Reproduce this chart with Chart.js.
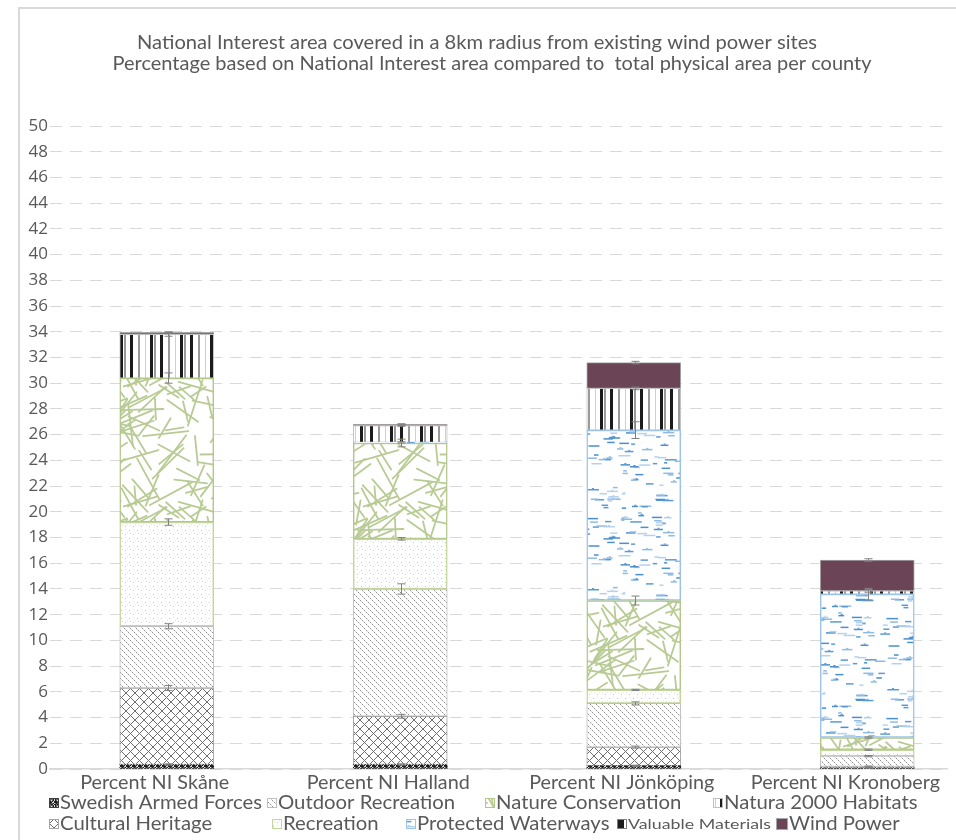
<!DOCTYPE html>
<html>
<head>
<meta charset="utf-8">
<script src="https://cdn.jsdelivr.net/npm/chart.js@4.4.1/dist/chart.umd.min.js"></script>
<style>
  html, body { margin: 0; padding: 0; background: #fff; overflow: hidden; }
  #wrap { position: relative; width: 956px; height: 840px; overflow: hidden; }
  #frame { position: absolute; left: 18px; top: 7px; width: 960px; height: 860px;
           border-left: 2px solid #d9d9d9; border-top: 2px solid #d9d9d9; }
  canvas { position: absolute; left: 0; top: 0; }
</style>
</head>
<body>
<div id="wrap">
  <div id="frame"></div>
  <canvas id="chart" width="993" height="840"></canvas>
</div>
<script>
// ---- Data (percent of county area, stacked bottom to top) ----
const categories = ['Percent NI Skåne', 'Percent NI Halland', 'Percent NI Jönköping', 'Percent NI Kronoberg'];

const swedishArmedForces = [0.35, 0.35, 0.25, 0.10];
const culturalHeritage   = [5.95, 3.75, 1.45, 0.10];
const outdoorRecreation  = [4.80, 9.90, 3.40, 0.80];
const recreation         = [8.10, 3.90, 1.05, 0.50];
const natureConservation = [11.20, 7.45, 6.95, 0.95];
const protectedWaterways = [0.00, 0.05, 13.25, 11.15];
const natura2000         = [3.40, 1.30, 3.25, 0.25];
const valuableMaterials  = [0.00, 0.00, 0.00, 0.00];
const windPower          = [0.15, 0.10, 2.00, 2.40];

// Error bar half-lengths at the top of each segment
const errSwedishArmedForces = [0.05, 0.05, 0.05, 0.03];
const errCulturalHeritage   = [0.20, 0.15, 0.08, 0.03];
const errOutdoorRecreation  = [0.20, 0.40, 0.12, 0.05];
const errRecreation         = [0.25, 0.10, 0.05, 0.05];
const errNatureConservation = [0.40, 0.30, 0.35, 0.05];
const errProtectedWaterways = [0.00, 0.05, 0.65, 0.45];
const errNatura2000         = [0.15, 0.05, 0.10, 0.10];
const errValuableMaterials  = [0.00, 0.00, 0.00, 0.00];
const errWindPower          = [0.05, 0.05, 0.10, 0.10];

const chartTitle = [
  'National Interest area covered in a 8km radius from existing wind power sites',
  'Percentage based on National Interest area compared to  total physical area per county'
];

// ---- Fill textures ----
function hash(n) { const s = Math.sin(n * 127.1 + 311.7) * 43758.5453; return s - Math.floor(s); }

function tile(w, h, paint) {
  const c = document.createElement('canvas');
  c.width = w; c.height = h;
  const g = c.getContext('2d');
  g.fillStyle = '#ffffff';
  g.fillRect(0, 0, w, h);
  paint(g, w, h);
  return c;
}

function wrapped(g, w, h, fn) {
  for (let dx = -1; dx <= 1; dx++) for (let dy = -1; dy <= 1; dy++) fn(dx * w, dy * h);
}

const tiles = {
  armed: tile(6, 6, (g) => {
    for (let y = 0; y < 6; y++) for (let x = 0; x < 6; x++) {
      const r = hash(x * 13 + y * 7 + 1);
      g.fillStyle = r < 0.45 ? '#1e1e1e' : (r < 0.75 ? '#6a6a6a' : '#d8d8d8');
      g.fillRect(x, y, 1, 1);
    }
  }),
  heritage: tile(9, 9, (g) => {
    g.strokeStyle = '#6f6f6f'; g.lineWidth = 1;
    g.beginPath();
    g.moveTo(-1, -1); g.lineTo(10, 10);
    g.moveTo(-1, 10); g.lineTo(10, -1);
    g.stroke();
  }),
  outdoor: tile(6, 6, (g) => {
    for (let k = 0; k < 6; k++) {
      g.fillStyle = k % 2 === 0 ? '#8f8f8f' : '#d4d4d4';
      g.fillRect(k, k, 1, 1);
    }
  }),
  recreation: tile(8, 8, (g) => {
    g.fillStyle = '#c4c4c4';
    g.fillRect(1, 2, 1, 1); g.fillRect(5, 6, 1, 1);
    g.fillStyle = '#e4e4e4';
    g.fillRect(5, 1, 1, 1); g.fillRect(2, 5, 1, 1); g.fillRect(7, 4, 1, 1);
  }),
  nature: tile(120, 120, (g, w, h) => {
    g.strokeStyle = '#b9cb95'; g.lineWidth = 1.8; g.lineCap = 'round';
    for (let i = 0; i < 72; i++) {
      const x = hash(i * 3 + 11) * w, y = hash(i * 5 + 23) * h;
      const a = hash(i * 7 + 37) * Math.PI;
      const len = 18 + hash(i * 11 + 41) * 30;
      const ex = Math.cos(a) * len, ey = Math.sin(a) * len;
      wrapped(g, w, h, (ox, oy) => {
        g.beginPath(); g.moveTo(x + ox, y + oy); g.lineTo(x + ex + ox, y + ey + oy); g.stroke();
      });
    }
  }),
  water: tile(100, 100, (g, w, h) => {
    const cols = ['#5b9bd5', '#8fbbe3', '#4a8fd0', '#b4d1ee'];
    for (let i = 0; i < 95; i++) {
      const x = hash(i * 17 + 5) * w, y = hash(i * 19 + 9) * h;
      const len = 3 + hash(i * 23 + 13) * 9;
      g.fillStyle = cols[i % 4];
      wrapped(g, w, h, (ox, oy) => {
        g.fillRect(x + ox, y + oy, len, 1.5);
        if (i % 3 === 0) g.fillRect(x + ox + len * 0.4, y + oy - 1, 2, 1);
      });
    }
  }),
  natura: tile(30, 8, (g) => {
    g.fillStyle = '#1c1c1c';
    g.fillRect(0, 0, 3, 8); g.fillRect(10, 0, 3, 8);
    g.fillStyle = '#9a9a9a';
    g.fillRect(4, 0, 2, 8); g.fillRect(18, 0, 2, 8);
    g.fillStyle = '#d0d0d0';
    g.fillRect(25, 0, 1, 8);
  }),
  materials: tile(10, 8, (g) => {
    g.fillStyle = '#1c1c1c';
    g.fillRect(0, 0, 10, 8);
    g.fillStyle = '#ffffff';
    g.fillRect(4, 0, 2, 8);
  })
};

const canvas = document.getElementById('chart');
const ctx = canvas.getContext('2d');
const pat = {};
for (const k in tiles) pat[k] = ctx.createPattern(tiles[k], 'repeat');

const series = [
  { label: 'Swedish Armed Forces', values: swedishArmedForces, err: errSwedishArmedForces, fill: pat.armed,      border: '#595959', bw: 0 },
  { label: 'Cultural Heritage',    values: culturalHeritage,   err: errCulturalHeritage,   fill: pat.heritage,   border: '#a6a6a6', bw: 1 },
  { label: 'Outdoor Recreation',   values: outdoorRecreation,  err: errOutdoorRecreation,  fill: pat.outdoor,    border: '#bfbfbf', bw: 1 },
  { label: 'Recreation',           values: recreation,         err: errRecreation,         fill: pat.recreation, border: '#c3d69b', bw: 1.5 },
  { label: 'Nature Conservation',  values: natureConservation, err: errNatureConservation, fill: pat.nature,     border: '#b3c78a', bw: 1.5 },
  { label: 'Protected Waterways',  values: protectedWaterways, err: errProtectedWaterways, fill: pat.water,      border: '#9dc3e6', bw: 1.5 },
  { label: 'Natura 2000 Habitats', values: natura2000,         err: errNatura2000,         fill: pat.natura,     border: '#bfbfbf', bw: 1 },
  { label: 'Valuable Materials',   values: valuableMaterials,  err: errValuableMaterials,  fill: pat.materials,  border: '#7f7f7f', bw: 1 },
  { label: 'Wind Power',           values: windPower,          err: errWindPower,          fill: '#6b4456',      border: '#a6a6a6', bw: 1 }
];

// Legend rows as laid out under the axis (series label, left edge of the swatch)
const legendRows = [
  { y: 803, items: [['Swedish Armed Forces', 49], ['Outdoor Recreation', 267], ['Nature Conservation', 485], ['Natura 2000 Habitats', 713]] },
  { y: 824, items: [['Cultural Heritage', 49], ['Recreation', 272], ['Protected Waterways', 406], ['Valuable Materials', 617], ['Wind Power', 776]] }
];

const TEXT = '#595959';
const VISIBLE_RIGHT = 948;

function fitText(c, text, x, y, width, font, align) {
  c.save();
  c.font = font;
  const m = c.measureText(text).width;
  c.translate(x, y);
  c.scale(width / m, 1);
  c.textAlign = align;
  c.textBaseline = 'middle';
  c.fillStyle = TEXT;
  c.fillText(text, 0, 0);
  c.restore();
}

function ratio(c, text, width, font) {
  c.save(); c.font = font; const m = c.measureText(text).width; c.restore();
  return width / m;
}

// The plot runs past the right edge of the frame; everything is clipped there.
const clipRight = {
  id: 'clipRight',
  beforeDraw(chart) {
    const c = chart.ctx;
    c.save();
    c.beginPath();
    c.rect(0, 0, VISIBLE_RIGHT, chart.height);
    c.clip();
  },
  afterDraw(chart) { chart.ctx.restore(); }
};

const overlay = {
  id: 'overlay',
  afterDatasetsDraw(chart) {
    const c = chart.ctx, xs = chart.scales.x, ys = chart.scales.y;
    c.save();
    c.strokeStyle = '#808080';
    c.lineWidth = 1;
    series.forEach((s, i) => {
      s.values.forEach((v, j) => {
        const e = s.err[j];
        if (!v || !e) return;
        let top = 0;
        for (let k = 0; k <= i; k++) top += series[k].values[j];
        const x = Math.round(xs.getPixelForValue(j)) + 1.5;
        const y1 = ys.getPixelForValue(top + e), y2 = ys.getPixelForValue(top - e);
        c.beginPath();
        c.moveTo(x, y1); c.lineTo(x, y2);
        c.moveTo(x - 4, y1); c.lineTo(x + 4, y1);
        c.moveTo(x - 4, y2); c.lineTo(x + 4, y2);
        c.stroke();
      });
    });
    c.restore();
  },
  afterDraw(chart) {
    const c = chart.ctx, xs = chart.scales.x;

    // Title, two centred lines
    fitText(c, chartTitle[0], 477, 43, 680, '19px Lato', 'center');
    fitText(c, chartTitle[1], 492, 64, 759, '19px Lato', 'center');

    // Category labels below the axis
    const catFont = '19px Lato';
    const k = ratio(c, categories[0], 149, catFont);
    categories.forEach((name, j) => {
      c.save();
      c.font = catFont;
      const w = c.measureText(name).width * k;
      c.restore();
      let cx = xs.getPixelForValue(j) - 12;
      cx = Math.min(cx, VISIBLE_RIGHT - 8 - w / 2);
      fitText(c, name, cx, 783, w, catFont, 'center');
    });

    // Legend
    const legFont = '19px Lato', smallFont = '13px Lato';
    const kl = ratio(c, 'Swedish Armed Forces', 202, legFont);
    const ks = ratio(c, 'Valuable Materials', 143, smallFont);
    legendRows.forEach(row => {
      row.items.forEach(([name, x]) => {
        const s = series.find(d => d.label === name);
        const size = name === 'Wind Power' ? 12 : 10;
        c.save();
        c.fillStyle = s.fill;
        c.fillRect(x, row.y - size / 2, size, size);
        c.strokeStyle = s.border === '#595959' ? '#404040' : s.border;
        c.lineWidth = 1;
        c.strokeRect(x + 0.5, row.y - size / 2 + 0.5, size - 1, size - 1);
        c.restore();
        const small = name === 'Valuable Materials';
        const font = small ? smallFont : legFont;
        c.save(); c.font = font;
        const w = c.measureText(name).width * (small ? ks : kl);
        c.restore();
        fitText(c, name, x + size + 1, row.y + (small ? 1 : 0), w, font, 'left');
      });
    });
  }
};

new Chart(canvas, {
  type: 'bar',
  data: {
    labels: categories,
    datasets: series.map(s => ({
      label: s.label,
      data: s.values,
      backgroundColor: s.fill,
      borderColor: s.border,
      borderWidth: s.bw,
      borderSkipped: false,
      barThickness: 94
    }))
  },
  options: {
    responsive: false,
    animation: false,
    devicePixelRatio: 1,
    layout: { padding: { top: 126, right: 9, left: 0, bottom: 0 } },
    plugins: {
      legend: { display: false },
      title: { display: false },
      tooltip: { enabled: false }
    },
    scales: {
      x: {
        stacked: true,
        grid: { display: false },
        ticks: { display: false },
        border: { display: true, color: '#d9d9d9', width: 1.5 },
        afterFit(scale) { scale.height = 71; }
      },
      y: {
        stacked: true,
        min: 0,
        max: 50,
        ticks: {
          stepSize: 2,
          color: TEXT,
          font: { family: 'Open Sans', size: 17 },
          padding: 2
        },
        grid: { color: '#d9d9d9', lineWidth: 1, drawTicks: false },
        border: { display: false, dash: [12, 8] },
        afterFit(scale) { scale.width = 50; }
      }
    }
  },
  plugins: [clipRight, overlay]
});
</script>
</body>
</html>
